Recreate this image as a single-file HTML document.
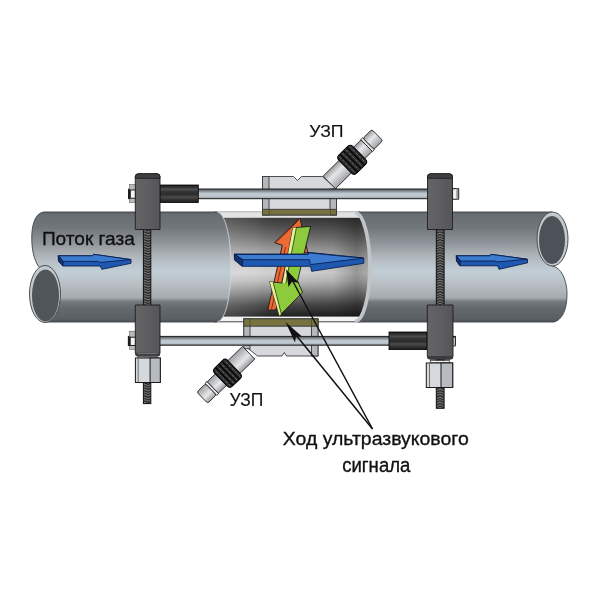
<!DOCTYPE html>
<html><head><meta charset="utf-8">
<style>
html,body{margin:0;padding:0;background:#fff;}
svg{display:block;will-change:transform;}
text{font-family:"Liberation Sans",sans-serif;fill:#111;stroke:#111;stroke-width:0.35;}
</style></head>
<body>
<svg width="600" height="600" viewBox="0 0 600 600">
<defs>
  <linearGradient id="pipe" x1="0" y1="212" x2="0" y2="322" gradientUnits="userSpaceOnUse">
    <stop offset="0" stop-color="#54595d"/>
    <stop offset="0.02" stop-color="#676d71"/>
    <stop offset="0.14" stop-color="#70767a"/>
    <stop offset="0.28" stop-color="#8f959a"/>
    <stop offset="0.38" stop-color="#abb0b5"/>
    <stop offset="0.46" stop-color="#b8c1c7"/>
    <stop offset="0.54" stop-color="#c1ced6"/>
    <stop offset="0.62" stop-color="#bcc4ca"/>
    <stop offset="0.7" stop-color="#b2b7bb"/>
    <stop offset="0.78" stop-color="#a7abb0"/>
    <stop offset="0.815" stop-color="#73797e"/>
    <stop offset="0.88" stop-color="#62686c"/>
    <stop offset="0.97" stop-color="#5a6064"/>
    <stop offset="1" stop-color="#4a4f53"/>
  </linearGradient>
  <linearGradient id="inner" x1="0" y1="217" x2="0" y2="318" gradientUnits="userSpaceOnUse">
    <stop offset="0" stop-color="#363636"/>
    <stop offset="0.08" stop-color="#4a4a4a"/>
    <stop offset="0.2" stop-color="#6e6e6e"/>
    <stop offset="0.33" stop-color="#9c9c9c"/>
    <stop offset="0.45" stop-color="#c4c4c4"/>
    <stop offset="0.55" stop-color="#d4d4d4"/>
    <stop offset="0.64" stop-color="#bababa"/>
    <stop offset="0.76" stop-color="#808080"/>
    <stop offset="0.87" stop-color="#464646"/>
    <stop offset="1" stop-color="#1a1a1a"/>
  </linearGradient>
  <linearGradient id="innerH" x1="217" y1="0" x2="372" y2="0" gradientUnits="userSpaceOnUse">
    <stop offset="0" stop-color="#fff" stop-opacity="0.2"/>
    <stop offset="0.25" stop-color="#fff" stop-opacity="0.08"/>
    <stop offset="0.45" stop-color="#000" stop-opacity="0"/>
    <stop offset="0.75" stop-color="#000" stop-opacity="0.06"/>
    <stop offset="0.9" stop-color="#000" stop-opacity="0.28"/>
    <stop offset="1" stop-color="#000" stop-opacity="0.15"/>
  </linearGradient>
  <linearGradient id="block" x1="0" y1="0" x2="1" y2="0">
    <stop offset="0" stop-color="#646467"/>
    <stop offset="0.5" stop-color="#5e5e61"/>
    <stop offset="1" stop-color="#55555a"/>
  </linearGradient>
  <linearGradient id="sleeve" x1="0" y1="0" x2="0" y2="1">
    <stop offset="0" stop-color="#1e1e1e"/>
    <stop offset="0.12" stop-color="#303030"/>
    <stop offset="0.25" stop-color="#4e4e4e"/>
    <stop offset="0.38" stop-color="#343434"/>
    <stop offset="0.55" stop-color="#2c2c2c"/>
    <stop offset="0.68" stop-color="#4c4c4c"/>
    <stop offset="0.85" stop-color="#303030"/>
    <stop offset="1" stop-color="#1a1a1a"/>
  </linearGradient>
  <linearGradient id="rod" x1="0" y1="0" x2="0" y2="1">
    <stop offset="0" stop-color="#4a4f54"/>
    <stop offset="0.18" stop-color="#7a8188"/>
    <stop offset="0.42" stop-color="#b8c0c7"/>
    <stop offset="0.6" stop-color="#c6ced5"/>
    <stop offset="0.85" stop-color="#b4bcc3"/>
    <stop offset="1" stop-color="#6a7076"/>
  </linearGradient>
  <linearGradient id="conn" x1="0" y1="0" x2="0" y2="1">
    <stop offset="0" stop-color="#9a9da0"/>
    <stop offset="0.4" stop-color="#e6e7e8"/>
    <stop offset="1" stop-color="#a0a3a6"/>
  </linearGradient>
  <pattern id="thread" x="0" y="0" width="8" height="2.6" patternUnits="userSpaceOnUse">
    <rect width="8" height="2.6" fill="#7c7c7c"/>
    <path d="M0 0.5 L4 2.1 L8 0.5" stroke="#1a1a1a" stroke-width="1.2" fill="none"/>
  </pattern>
  <clipPath id="innerClip">
    <path d="M210 217 H372 V318 H210 Z"/>
  </clipPath>
</defs>

<!-- ===== interior of middle section ===== -->
<rect x="212" y="216" width="162" height="103" fill="url(#inner)"/>
<rect x="212" y="216" width="162" height="103" fill="url(#innerH)"/>
<!-- light wall strips -->
<rect x="214" y="211.5" width="146" height="6.3" fill="#e2e2e2"/>
<line x1="214" y1="211.8" x2="360" y2="211.8" stroke="#9a9a9a" stroke-width="0.7"/>
<rect x="214" y="316.6" width="146" height="5.2" fill="#f2f2f2"/>
<line x1="214" y1="321.8" x2="360" y2="321.8" stroke="#333" stroke-width="0.9"/>

<!-- ===== left pipe ===== -->
<path d="M45 212 H217 A14 55 0 0 1 217 322 H45 L39 267 C33.5 259 31.8 249 31.8 238 C31.8 222 36.5 212 45 212 Z" fill="url(#pipe)"/>
<path d="M217.5 212.3 A13.5 54.7 0 0 1 217.5 321.7" fill="none" stroke="#d4dade" stroke-width="1" opacity="0.8"/>
<path d="M217 212 H45 C36.5 212 31.8 222 31.8 238 C31.8 249 33.5 259 39 267 M45 322 H217" fill="none" stroke="#4a4f54" stroke-width="1"/>
<ellipse cx="45" cy="294" rx="15.5" ry="28.5" fill="#c4c9cd" stroke="#4a4f53" stroke-width="1"/>
<ellipse cx="45.5" cy="295.5" rx="13.5" ry="26" fill="#4f5559"/>

<!-- ===== right pipe ===== -->
<path d="M356 212 H552 V266 C561 267 567 280 567 294 C567 310 562 320 554 322 H356 A15 55 0 0 0 356 212 Z" fill="url(#pipe)"/>
<path d="M356 212 H552 M552 266 C561 267 567 280 567 294 C567 310 562 320 554 322 H356" fill="none" stroke="#4a4f54" stroke-width="1"/>
<path d="M354.8 212.5 A15 54.5 0 0 1 354.8 321.5" fill="none" stroke="#c2c5c8" stroke-width="3.6"/>
<ellipse cx="552.5" cy="239" rx="15.5" ry="27" fill="#c4c9cd" stroke="#4a4f53" stroke-width="1"/>
<ellipse cx="552" cy="240" rx="13" ry="24" fill="#4c5257"/>

<!-- ===== blue arrows ===== -->
<g stroke="#0a2050" stroke-width="0.9" stroke-linejoin="round" fill="none">
  <path d="M58.3 255.8 H92.8 L93.5 254.3 L131 259.5 V263.3 L101.8 269.3 L100.3 266 H62.8 L58.5 261 Z" fill="#1e58b0"/>
  <path d="M58.3 255.8 H92.8 L93.5 254.3 L130.5 259.6 L99.5 262.5 L98.8 261.4 H63.3 Z" fill="#3c7bd0"/>
  <path d="M58.3 255.8 L63.3 261.4 L62.8 266 L58.5 261 Z" fill="#13346f"/>
  <path d="M456.3 255.8 H490 L490.8 254.3 L527.5 259.2 V262.8 L499 269.3 L497.5 265.8 H460 L456.5 261 Z" fill="#1e58b0"/>
  <path d="M456.3 255.8 H490 L490.8 254.3 L527 259.3 L496.5 262 L495.8 261 H460.5 Z" fill="#3c7bd0"/>
  <path d="M456.3 255.8 L460.5 261 L460 265.8 L456.5 261 Z" fill="#13346f"/>
</g>
<!-- ===== vertical threaded rods ===== -->
<rect x="143.4" y="200" width="7.4" height="203.6" fill="url(#thread)" stroke="#111" stroke-width="1"/>
<rect x="436.3" y="200" width="7.8" height="208.3" fill="url(#thread)" stroke="#111" stroke-width="1"/>

<!-- ===== top housing ===== -->
<g stroke="#3a3a3a" stroke-width="0.9">
  <path d="M262.5 176.5 H293.5 L297.5 180.5 L301.5 176.5 H322.5 L336.5 189 V215 H262.5 Z" fill="#d6d8dc"/>
  <rect x="262.5" y="176.5" width="6.5" height="38.5" fill="#b4b7bb"/>
  <rect x="330" y="189" width="6.5" height="26" fill="#b4b7bb"/>
  <rect x="262.5" y="209.3" width="74" height="5.7" fill="#77723f"/>
  <path d="M269.3 209.5 V214.8 M330.5 209.5 V214.8" stroke="#4a4a30" stroke-width="0.8"/>
</g>
<!-- ===== bottom housing ===== -->
<g stroke="#3a3a3a" stroke-width="0.9">
  <path d="M243.8 318.8 H318 V356 H286.5 L284.3 352.5 L282 356 H257.5 L243.8 345 Z" fill="#d6d8dc"/>
  <rect x="243.8" y="318.8" width="6.2" height="30" fill="#b4b7bb"/>
  <rect x="311.5" y="318.8" width="6.5" height="37.2" fill="#b4b7bb"/>
  <rect x="243.8" y="318.8" width="74.2" height="7.4" fill="#77723f"/>
  <path d="M250 319 V326 M311.5 319 V326" stroke="#4a4a30" stroke-width="0.8"/>
</g>

<!-- ===== connectors ===== -->
<g transform="translate(329.25 182.45) rotate(-44.6)" stroke-linejoin="round">
  <rect x="0" y="-8.8" width="23.5" height="17.6" fill="url(#conn)" stroke="#2a2a2a" stroke-width="0.9"/>
  <rect x="42" y="-8" width="10.5" height="16" fill="url(#conn)" stroke="#2a2a2a" stroke-width="0.9"/>
  <rect x="22.5" y="-12.6" width="19.5" height="25.2" rx="3.5" fill="#2c2c2c" stroke="#050505" stroke-width="1.1"/>
  <path d="M27.38 -12.2 V12.2 M32.25 -12.2 V12.2 M37.12 -12.2 V12.2" stroke="#060606" stroke-width="1.4" fill="none"/>
  <path d="M25.18 -11.5 V11.5 M30.05 -11.5 V11.5 M34.92 -11.5 V11.5 M39.80 -11.5 V11.5" stroke="#6e6e6e" stroke-width="0.9" fill="none" stroke-dasharray="3 1.5"/>
  <rect x="52.5" y="-8.4" width="2.6" height="16.8" fill="#e8e8e8" stroke="#1a1a1a" stroke-width="0.8"/>
  <rect x="55.1" y="-7.8" width="12.4" height="15.6" rx="2" fill="url(#conn)" stroke="#2a2a2a" stroke-width="0.9"/>
</g>
<g transform="translate(248.65 352.75) rotate(135.9)" stroke-linejoin="round">
  <rect x="0" y="-8.8" width="21.5" height="17.6" fill="url(#conn)" stroke="#2a2a2a" stroke-width="0.9"/>
  <rect x="38.5" y="-8" width="11.5" height="16" fill="url(#conn)" stroke="#2a2a2a" stroke-width="0.9"/>
  <rect x="20.5" y="-12.6" width="18.0" height="25.2" rx="3.5" fill="#2c2c2c" stroke="#050505" stroke-width="1.1"/>
  <path d="M25.00 -12.2 V12.2 M29.50 -12.2 V12.2 M34.00 -12.2 V12.2" stroke="#060606" stroke-width="1.4" fill="none"/>
  <path d="M22.80 -11.5 V11.5 M27.30 -11.5 V11.5 M31.80 -11.5 V11.5 M36.30 -11.5 V11.5" stroke="#6e6e6e" stroke-width="0.9" fill="none" stroke-dasharray="3 1.5"/>
  <rect x="50" y="-8.4" width="2.6" height="16.8" fill="#e8e8e8" stroke="#1a1a1a" stroke-width="0.8"/>
  <rect x="52.6" y="-7.8" width="11.999999999999995" height="15.6" rx="2" fill="url(#conn)" stroke="#2a2a2a" stroke-width="0.9"/>
</g>
<!-- ===== horizontal rods ===== -->
<rect x="128.7" y="189" width="330" height="9.7" fill="url(#rod)" stroke="#222" stroke-width="1"/>
<rect x="128.4" y="336.4" width="327" height="8.8" fill="url(#rod)" stroke="#222" stroke-width="1"/>
<!-- small end nuts -->
<rect x="129.4" y="184.4" width="6" height="18.2" fill="#b9b9b9" stroke="#555" stroke-width="0.5"/>
<rect x="128.6" y="190" width="6.8" height="8.2" fill="#f6f6f6" stroke="#111" stroke-width="0.9"/>
<rect x="128.6" y="190" width="2.2" height="8.2" fill="#1a1a1a"/>
<rect x="129.4" y="331.2" width="6" height="18.3" fill="#b9b9b9" stroke="#555" stroke-width="0.5"/>
<rect x="128.4" y="337.2" width="7" height="8.3" fill="#f6f6f6" stroke="#111" stroke-width="0.9"/>
<rect x="128.4" y="337.2" width="2.3" height="8.3" fill="#1a1a1a"/>
<rect x="452.6" y="188.7" width="5.7" height="10.5" fill="#f0f0f0" stroke="#111" stroke-width="0.9"/>
<rect x="456.3" y="188.7" width="2" height="10.5" fill="#9a9a9a"/>
<rect x="452.9" y="337" width="2.3" height="9" fill="#f0f0f0" stroke="#111" stroke-width="0.8"/>
<!-- black sleeves -->
<rect x="160" y="185" width="38.3" height="17.5" fill="url(#sleeve)" stroke="#000" stroke-width="0.8"/>
<rect x="389" y="332" width="38" height="17.6" fill="url(#sleeve)" stroke="#000" stroke-width="0.8"/>

<!-- ===== clamp blocks ===== -->
<g stroke="#1e1e1e" stroke-width="0.9">
  <path d="M135.3 229.5 V176.8 Q135.3 173.8 138.3 173.8 H157 Q160 173.8 160 176.8 V229.5 Z" fill="url(#block)"/>
  <path d="M135.3 178.3 V176.8 Q135.3 173.8 138.3 173.8 H157 Q160 173.8 160 176.8 V178.3 Z" fill="#404043"/>
  <path d="M135.3 305 H160 V353 Q160 356.3 157 356.3 H138.3 Q135.3 356.3 135.3 353 Z" fill="url(#block)"/>
  <rect x="135.8" y="352.8" width="23.7" height="3" fill="#3e3e40" stroke="none"/>
  <line x1="138" y1="353.6" x2="157.5" y2="353.6" stroke="#8a8a8a" stroke-width="0.7"/>
  <path d="M427.5 229.5 V176.8 Q427.5 173.8 430.5 173.8 H449.5 Q452.5 173.8 452.5 176.8 V229.5 Z" fill="url(#block)"/>
  <path d="M427.5 178.3 V176.8 Q427.5 173.8 430.5 173.8 H449.5 Q452.5 173.8 452.5 176.8 V178.3 Z" fill="#404043"/>
  <path d="M427.3 305 H453 V356 Q453 359.3 450 359.3 H430.3 Q427.3 359.3 427.3 356 Z" fill="url(#block)"/>
  <rect x="427.6" y="356" width="25.1" height="3" fill="#3c3c3e" stroke="none"/>
</g>
<!-- washers -->
<rect x="138" y="356.3" width="19.5" height="1.6" fill="#f0f0f0" stroke="#333" stroke-width="0.6"/>
<rect x="430.3" y="360.6" width="19" height="2.2" fill="#f0f0f0" stroke="#333" stroke-width="0.7"/>
<!-- hex nuts -->
<g stroke="#1a1a1a" stroke-width="1">
  <rect x="135.4" y="358" width="24.9" height="24.5" fill="#d6d9dc"/>
  <rect x="150.1" y="358" width="10.2" height="24.5" fill="#b6bbc0"/>
  <line x1="138.2" y1="358.5" x2="138.2" y2="382" stroke="#555" stroke-width="0.8"/>
  <rect x="426.3" y="363" width="26.4" height="24.5" fill="#d6d9dc"/>
  <rect x="441" y="363" width="11.7" height="24.5" fill="#b8bcc1"/>
  <line x1="429.5" y1="363.5" x2="429.5" y2="387" stroke="#555" stroke-width="0.8"/>
</g>

<!-- ===== signal arrows ===== -->
<g stroke="#1a1a1a" stroke-width="0.9" stroke-linejoin="round">
  <!-- orange up arrow -->
  <path d="M267.8 310 L275.8 310 L289 250 L307.9 253 L300 218.3 L274.6 242.6 L282.3 245.3 Z" fill="#ec6a35"/>
  <path d="M271.5 309 L285.5 247 M276.5 242 L298.5 220.5" stroke="#7a2a10" stroke-width="0.9" fill="none"/>
  <!-- green down arrow -->
  <path d="M293 227.7 L310.6 226.4 L297.5 281 L302.6 292.4 L279.4 315.8 L269.7 281.8 L282.5 283 Z" fill="#8dcb3d"/>
  <path d="M293 227.7 L296.2 227.5 L285.6 283.2 L282.5 283 Z" fill="#e4f19c" stroke="none"/>
  <path d="M269.7 281.8 L273 282.1 L281.2 314 L279.4 315.8 Z" fill="#e4f19c" stroke="none"/>
  <path d="M296.4 227.5 L285.8 283.3 M273.1 282.2 L281.3 313.8" stroke="#2a3a10" stroke-width="0.8" fill="none"/>
</g>
<!-- middle blue arrow -->
<g stroke="#0a2050" stroke-width="0.9" stroke-linejoin="round">
  <path d="M234.3 254 H308 L308 252.3 L363.7 258 V263.3 L311.7 271.3 L310.5 266.3 H242.3 L234.6 260 Z" fill="#1e58b0"/>
  <path d="M234.8 254.5 H308.3 L308.3 252.8 L363 258.2 L310.3 264.6 L309.5 259.7 H242.7 Z" fill="#3c7bd0"/>
  <path d="M234.5 254.3 L242.7 259.7 L242.3 266.3 L234.6 260 Z" fill="#13346f"/>
</g>
<!-- ===== pointer lines ===== -->
<g stroke="#111" stroke-width="1.5" fill="#111">
  <line x1="372.5" y1="429" x2="290" y2="276"/>
  <line x1="372.5" y1="429" x2="291" y2="329"/>
  <path d="M286 269.2 L299 283 L292 281.5 L288.5 287 Z" stroke="none"/>
  <path d="M285.5 322 L302 336.5 L296 336 L295 342.5 Z" stroke="none"/>
</g>
<!-- ===== texts ===== -->
<text x="41.9" y="244.6" font-size="18.6" textLength="93" lengthAdjust="spacingAndGlyphs">Поток газа</text>
<text x="309.3" y="136.9" font-size="17.2" textLength="34.2" lengthAdjust="spacingAndGlyphs" style="stroke-width:0.15">УЗП</text>
<text x="229.6" y="406" font-size="19.2" textLength="33.8" lengthAdjust="spacingAndGlyphs" style="stroke-width:0.15">УЗП</text>
<text x="282.8" y="444.5" font-size="18.8" textLength="186" lengthAdjust="spacingAndGlyphs">Ход ультразвукового</text>
<text x="342.2" y="471.6" font-size="19.4" textLength="68.2" lengthAdjust="spacingAndGlyphs">сигнала</text>
</svg>
</body></html>
